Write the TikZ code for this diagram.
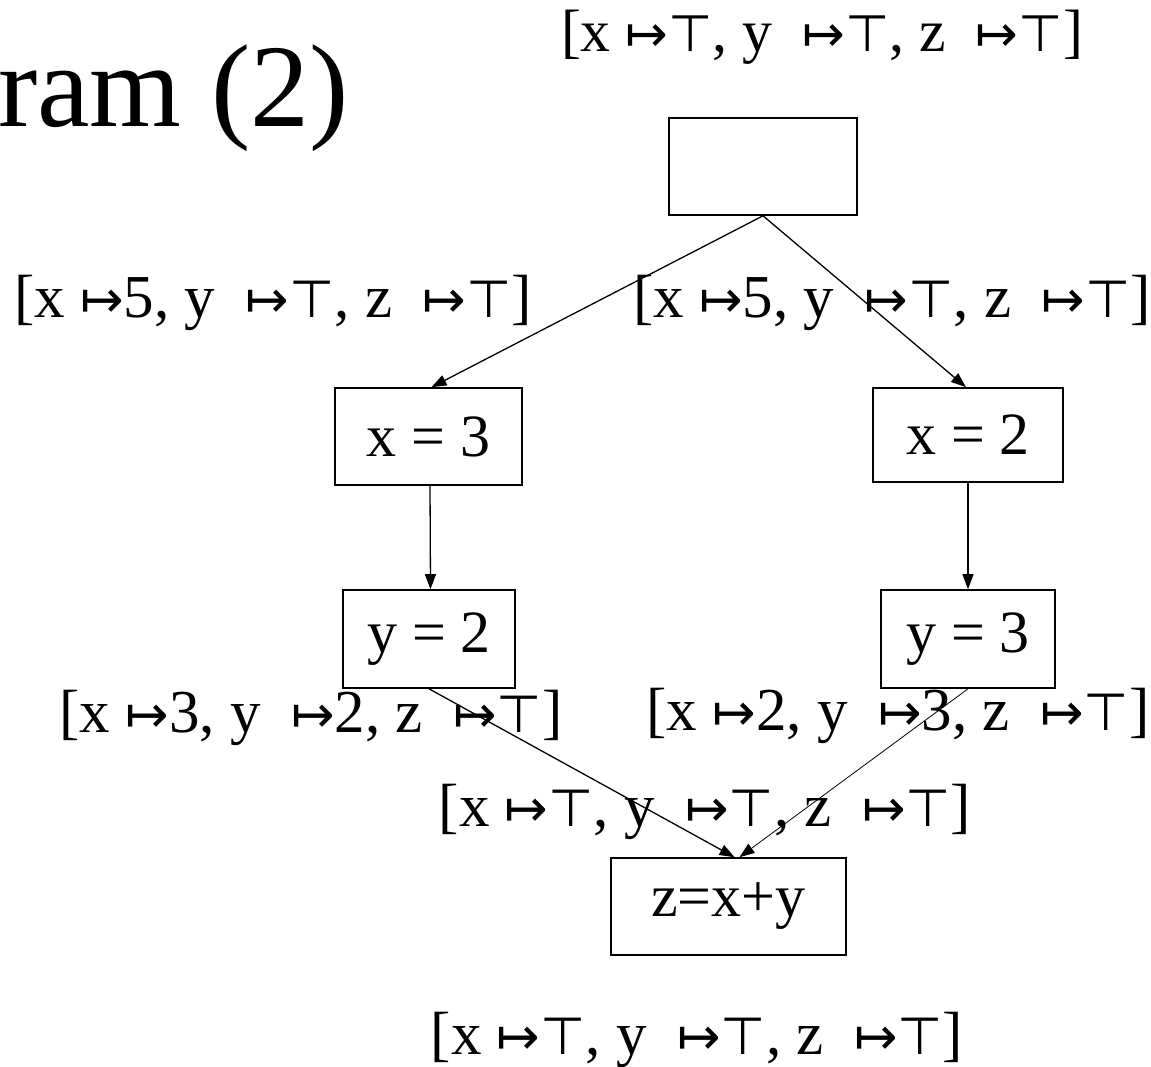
\documentclass[tikz,border=0pt]{standalone}
\usepackage{fontspec}
\setmainfont{Liberation Serif}
\newfontfamily\symf{DejaVu Sans}
\usetikzlibrary{arrows.meta}
\newcommand{\mto}{{\symf\fontsize{52}{56}\selectfont ↦}}
\newcommand{\tp}{{\symf\fontsize{52}{56}\selectfont ⊤}}
\tikzset{
  box/.style={draw, line width=1.6pt, inner sep=0pt, font=\fontsize{60}{70}\selectfont},
  lbl/.style={inner sep=0pt, font=\fontsize{61}{68}\selectfont},
  arr/.style={line width=1.3pt, -{Triangle[length=15pt,width=11pt]}},
}
\begin{document}
\begin{tikzpicture}[x=1pt,y=-1pt]
\useasboundingbox (0,0) rectangle (1151,1067);
\node[inner sep=0pt, anchor=base west, font=\fontsize{118}{124}\selectfont] (title) at (-2,127) {ram (2)};

\node[box, minimum width=188pt, minimum height=97pt] (top) at (763,166.5) {};
\node[box, minimum width=187pt, minimum height=97pt] (x3) at (428.5,436.5) {x = 3};
\node[box, minimum width=190pt, minimum height=94pt] (x2) at (968,435) {x = 2};
\node[box, minimum width=172pt, minimum height=98pt] (y2) at (429,639) {y = 2};
\node[box, minimum width=174pt, minimum height=98pt] (y3) at (968,639) {y = 3};
\node[box, minimum width=235pt, minimum height=97pt] (z) at (728.5,906.5) {z=x+y};

\node[lbl, scale=0.98] (l0) at (822,37) {[x \mto\tp, y\ \ \mto\tp, z\ \ \mto\tp]};
\node[lbl] (l1) at (273,303) {[x \mto5, y\ \ \mto\tp, z\ \ \mto\tp]};
\node[lbl] (l2) at (892,303) {[x \mto5, y\ \ \mto\tp, z\ \ \mto\tp]};
\node[lbl] (l3) at (311,718) {[x \mto3, y\ \ \mto2, z\ \ \mto\tp]};
\node[lbl] (l4) at (898,716) {[x \mto2, y\ \ \mto3, z\ \ \mto\tp]};
\node[lbl] (l5) at (705,812) {[x \mto\tp, y\ \ \mto\tp, z\ \ \mto\tp]};
\node[lbl] (l6) at (697,1040) {[x \mto\tp, y\ \ \mto\tp, z\ \ \mto\tp]};

\draw[arr] (top.south) -- ([xshift=3pt]x3.north);
\draw[arr] (top.south) -- ([xshift=-2pt]x2.north);
\draw[arr] ([xshift=1.5pt]x3.south) -- ([xshift=1.5pt]y2.north);
\draw[arr] (x2.south) -- (y3.north);
\draw[arr] (y2.south) -- ([xshift=6pt]z.north);
\draw[arr, line width=0.8pt] (y3.south) -- ([xshift=11pt]z.north);
\end{tikzpicture}
\end{document}
